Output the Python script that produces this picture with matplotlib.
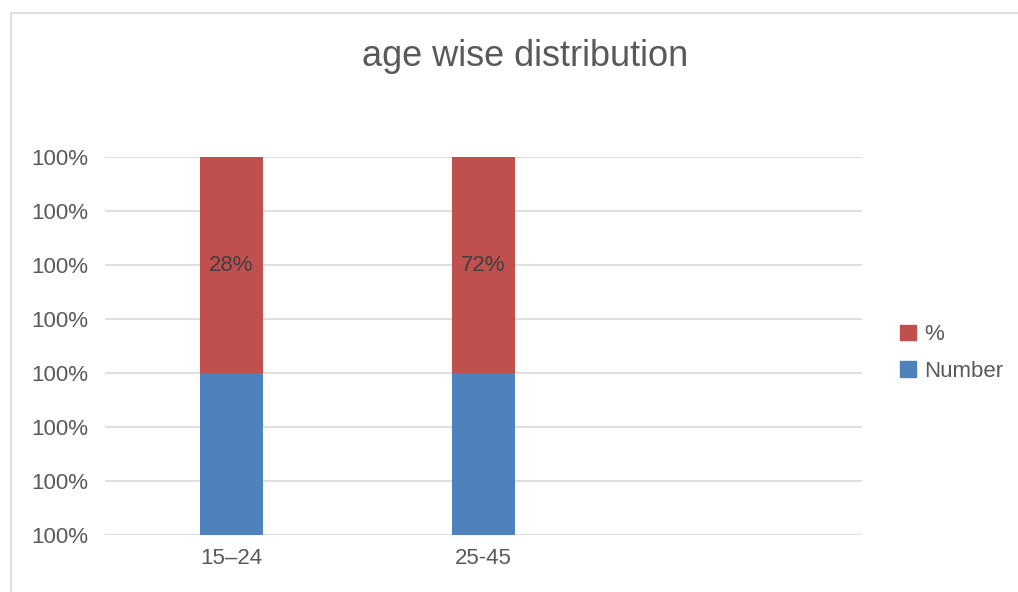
import numpy as np
import matplotlib.pyplot as plt
from matplotlib.patches import Rectangle, Patch

plt.rcParams['font.family'] = ['Liberation Sans', 'DejaVu Sans']

# data
categories = ['15\u201324', '25-45', '']
number = [21, 54, 0]
percent = [28, 72, 0]
pct_labels = ['28%', '72%', '']
y_tick_labels = ['100%'] * 8

red = '#C0504D'
blue = '#4F81BD'
grey_txt = '#595959'


def make_plot():
    fig = plt.figure(figsize=(10.18, 5.92), dpi=100)
    ax = fig.add_axes([105 / 1018, 1 - 535 / 592, 757 / 1018, 378 / 592])

    # chart area border (left and top visible in the reference)
    fig.patches.append(Rectangle((11 / 1018, -0.2), 1.5, 1.2 - 13 / 592,
                                 transform=fig.transFigure, fill=False,
                                 edgecolor='#d9d9d9', linewidth=1.2))

    num = np.array(number, dtype=float)
    pct = np.array(percent, dtype=float)
    tot = num + pct
    tot[tot == 0] = 1
    num_f = num / tot
    pct_f = pct / tot

    x = np.arange(len(categories))
    w = 0.25
    ax.bar(x, num_f, w, color=blue, zorder=3)
    ax.bar(x, pct_f, w, bottom=num_f, color=red, zorder=3)

    for i, lab in enumerate(pct_labels):
        if lab:
            ax.text(x[i], num_f[i] + pct_f[i] / 2, lab, ha='center', va='center',
                    fontsize=16, color='#404040', zorder=4)

    ax.set_xlim(-0.5, len(categories) - 0.5)
    ax.set_ylim(0, 1)
    ax.set_xticks(x)
    ax.set_xticklabels(categories)
    ax.set_yticks(np.linspace(0, 1, len(y_tick_labels)))
    ax.set_yticklabels(y_tick_labels)
    ax.tick_params(axis='both', length=0, labelsize=16, labelcolor=grey_txt)
    ax.tick_params(axis='y', pad=12)
    ax.tick_params(axis='x', pad=9)
    ax.yaxis.grid(True, color='#d9d9d9', linewidth=1.2, zorder=0)
    for s in ax.spines.values():
        s.set_visible(False)

    fig.text(525 / 1018, 1 - 56 / 592, 'age wise distribution', ha='center',
             va='center', fontsize=26, color=grey_txt)

    handles = [Patch(color=red, label='%'), Patch(color=blue, label='Number')]
    fig.legend(handles=handles, loc='center left', bbox_to_anchor=(880 / 1018, 1 - 353 / 592),
               frameon=False, fontsize=16, handlelength=0.7, handleheight=0.7,
               handletextpad=0.4, labelspacing=0.7, labelcolor=grey_txt)

    fig.savefig('out.png', dpi=100)


make_plot()
